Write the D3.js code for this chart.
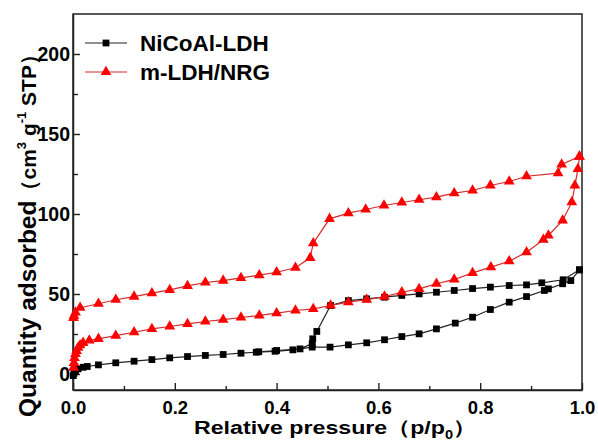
<!DOCTYPE html>
<html>
<head>
<meta charset="utf-8">
<script src="https://cdn.jsdelivr.net/npm/d3@7"></script>
<style>
  body { margin: 0; background: #fff; }
  text { font-family: "Liberation Sans", Arial, sans-serif; font-weight: bold; }
</style>
</head>
<body>
<div id="chart"></div>
<script>
// NiCoAl-LDH, adsorption then desorption branch
const ldhAdsP = [0.0005, 0.002, 0.005, 0.01, 0.02, 0.028, 0.05, 0.084, 0.12, 0.155, 0.19, 0.225, 0.26, 0.295, 0.33, 0.36, 0.397, 0.432, 0.47, 0.505, 0.541, 0.577, 0.612, 0.646, 0.68, 0.714, 0.751, 0.785, 0.82, 0.857, 0.891, 0.926, 0.934, 0.962, 0.978, 0.995];
const ldhAdsQ = [-1, 0.5, 2, 3.2, 4.2, 4.7, 5.7, 7, 8, 9, 10.1, 10.9, 11.6, 12.2, 13, 13.6, 14.2, 15.1, 16.8, 16.8, 18.2, 19.5, 21.4, 23.4, 25.1, 28.2, 31.8, 35.5, 40.3, 44.9, 48.4, 52.2, 53.2, 56.4, 58.4, 65.1];
const ldhDesP = [0.995, 0.963, 0.921, 0.891, 0.857, 0.82, 0.785, 0.749, 0.714, 0.68, 0.646, 0.612, 0.577, 0.541, 0.506, 0.479, 0.471, 0.47, 0.446, 0.40, 0.365];
const ldhDesQ = [65.1, 58.9, 57, 55.7, 55.3, 54.3, 53.4, 52.2, 51.1, 50.1, 49.1, 48, 47, 45.9, 42.8, 26.6, 22, 19, 15.7, 14.7, 13.9];

// m-LDH/NRG
const nrgAdsP = [0.001, 0.002, 0.003, 0.005, 0.007, 0.01, 0.014, 0.02, 0.032, 0.05, 0.084, 0.12, 0.155, 0.19, 0.225, 0.26, 0.295, 0.33, 0.366, 0.40, 0.437, 0.472, 0.506, 0.541, 0.577, 0.612, 0.646, 0.68, 0.714, 0.749, 0.785, 0.821, 0.857, 0.891, 0.924, 0.934, 0.962, 0.98, 0.986, 0.992, 0.995];
const nrgAdsQ = [4, 7, 10, 12.5, 14.5, 16.5, 18, 19.5, 21, 22, 24, 26.1, 28.2, 29.7, 31.3, 32.8, 34, 35.3, 36.6, 38, 39.7, 40.7, 42.8, 44.9, 46.4, 48.4, 51.1, 53.2, 56.4, 59.1, 63.2, 66.8, 70.5, 76.1, 83.9, 86.6, 96, 107.4, 117.8, 128.2, 135.9];
const nrgDesP = [0.995, 0.96, 0.953, 0.891, 0.857, 0.82, 0.785, 0.749, 0.714, 0.68, 0.646, 0.611, 0.575, 0.541, 0.504, 0.472, 0.466, 0.437, 0.40, 0.366, 0.33, 0.295, 0.26, 0.225, 0.19, 0.155, 0.12, 0.084, 0.05, 0.014, 0.005, 0.002, 0.001];
const nrgDesQ = [135.9, 131, 125.5, 123.6, 120.3, 117.8, 114.7, 113, 110.5, 108.9, 107.2, 105.3, 102.8, 100.5, 97, 81.8, 72.6, 66.4, 63.6, 61.8, 60.1, 58.4, 57.2, 55.1, 52.6, 50.5, 48.4, 46.4, 43.9, 41.4, 38.5, 36.5, 35];

const xTicks = [0, 0.2, 0.4, 0.6, 0.8, 1.0];
const yTicks = [0, 50, 100, 150, 200];

const width = 598, height = 443;
const margin = {top: 14, right: 16, bottom: 53, left: 73};

const svg = d3.select("#chart").append("svg")
    .attr("width", width)
    .attr("height", height);

const x = d3.scaleLinear().domain([0, 1]).range([margin.left, width - margin.right]);
const y = d3.scaleLinear().domain([-10, 225]).range([height - margin.bottom, margin.top]);

// axes, ticks pointing inward
const xAxis = svg.append("g")
    .attr("transform", `translate(0,${y(-10)})`)
    .call(d3.axisBottom(x).tickValues(xTicks).tickFormat(d3.format(".1f")).tickSizeInner(-7).tickSizeOuter(0).tickPadding(11));
svg.append("g")
    .attr("transform", `translate(0,${y(-10)})`)
    .call(d3.axisBottom(x).tickValues(d3.range(0.1, 1, 0.2)).tickFormat("").tickSizeInner(-4).tickSizeOuter(0))
    .select(".domain").remove();

const yAxis = svg.append("g")
    .attr("transform", `translate(${x(0)},0)`)
    .call(d3.axisLeft(y).tickValues(yTicks).tickSizeInner(-7).tickSizeOuter(0).tickPadding(3));
svg.append("g")
    .attr("transform", `translate(${x(0)},0)`)
    .call(d3.axisLeft(y).tickValues([25, 75, 125, 175]).tickFormat("").tickSizeInner(-5).tickSizeOuter(0))
    .select(".domain").remove();

svg.selectAll(".tick line").attr("stroke", "#222").attr("stroke-width", 1.4);
svg.selectAll(".domain").attr("stroke", "#222").attr("stroke-width", 1.5);
xAxis.selectAll("text").attr("font-size", 18.5).attr("fill", "#000");
yAxis.selectAll("text").attr("font-size", 19.5).attr("fill", "#000");

// frame top & right
svg.append("rect")
    .attr("x", x(0)).attr("y", y(225))
    .attr("width", x(1) - x(0)).attr("height", y(-10) - y(225))
    .attr("fill", "none").attr("stroke", "#222").attr("stroke-width", 1.5);

const line = d3.line().x(d => x(d[0])).y(d => y(d[1]));
const sq = d3.symbol().type(d3.symbolSquare).size(46);
const tri = d3.symbol().type(d3.symbolTriangle).size(50);

const series = [
  {name: "NiCoAl-LDH", line: "#222", fill: "#000", sym: sq,
   pts: ldhAdsP.map((p, i) => [p, ldhAdsQ[i]]).concat(ldhDesP.map((p, i) => [p, ldhDesQ[i]]))},
  {name: "m-LDH/NRG", line: "#d42a2a", fill: "#f00", sym: tri,
   pts: nrgAdsP.map((p, i) => [p, nrgAdsQ[i]]).concat(nrgDesP.map((p, i) => [p, nrgDesQ[i]]))}
];

series.forEach(s => {
  svg.append("path")
      .datum(s.pts)
      .attr("fill", "none")
      .attr("stroke", s.line)
      .attr("stroke-width", 1.2)
      .attr("d", line);
  svg.append("g").selectAll("path")
    .data(s.pts)
    .join("path")
      .attr("transform", d => `translate(${x(d[0])},${y(d[1])})`)
      .attr("d", s.sym)
      .attr("fill", s.fill);
});

// legend
const legend = svg.append("g");
series.forEach((s, i) => {
  const ly = 43 + i * 29;
  legend.append("line")
      .attr("x1", 85).attr("x2", 127).attr("y1", ly).attr("y2", ly)
      .attr("stroke", s.line).attr("stroke-width", 1.2);
  legend.append("path")
      .attr("transform", `translate(106,${ly})`)
      .attr("d", s.sym).attr("fill", s.fill);
  legend.append("text")
      .attr("x", 140).attr("y", ly + 7.5)
      .attr("font-size", 22.5)
      .text(s.name);
});

// axis titles (the source figure is a little stretched sideways)
const xl = svg.append("text")
    .attr("transform", "translate(194,434) scale(1.22,1)")
    .attr("font-size", 19);
xl.append("tspan").text("Relative pressure（p/p");
xl.append("tspan").attr("font-size", 12).attr("dy", 5).text("0");
xl.append("tspan").attr("dy", -5).text("）");

const yl = svg.append("text")
    .attr("transform", "translate(36,417) rotate(-90)");
yl.append("tspan").attr("font-size", 24.5).text("Quantity adsorbed");
yl.append("tspan").attr("font-size", 21).text("（cm");
yl.append("tspan").attr("font-size", 13).attr("dy", -10).text("3");
yl.append("tspan").attr("font-size", 21).attr("dy", 10).text(" g");
yl.append("tspan").attr("font-size", 13).attr("dy", -10).text("-1");
yl.append("tspan").attr("font-size", 21).attr("dy", 10).text(" STP）");
</script>
</body>
</html>
